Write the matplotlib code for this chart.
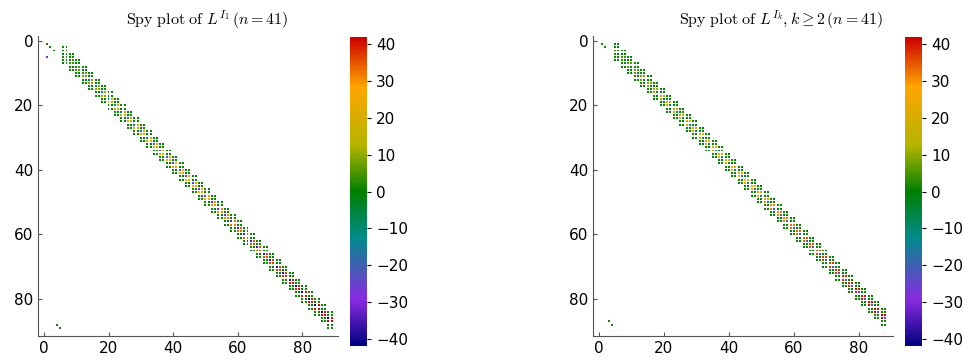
import numpy as np
import matplotlib
matplotlib.use("Agg")
import matplotlib.pyplot as plt
from matplotlib.colors import LinearSegmentedColormap

plt.rcParams["mathtext.fontset"] = "cm"

n = 41
size_left = 90
size_right = 89
clim = 42

# magnitude of the centre 2x2 block, one value per block row (read along the diagonal)
centre_left = [2, 4, 6, 7, 9, 10, 11, 13, 14, 15, 17, 18, 19, 20, 21, 22, 23, 24, 25, 26, 27,
               28, 29, 30, 31, 31, 32, 33, 34, 35, 35, 36, 37, 37, 38, 39, 39, 40, 40, 41, 41, 42]
centre_right = [2, 4, 6, 7, 9, 10, 11, 13, 14, 15, 17, 18, 19, 20, 21, 22, 23, 24, 25, 26, 27,
                28, 29, 30, 31, 31, 32, 33, 34, 35, 35, 36, 37, 37, 38, 39, 39, 40, 40, 41, 41, 42]
# sign pattern of the centre block (upper row, lower row)
sign_left = [[-1, 1], [1, 1]]
sign_right = [[1, 1], [1, -0.6]]
# small couplings in the neighbouring blocks
offdiag_vals = [1, -1, -1, 1]

# isolated entries outside the band: (row, col, value)
extra_left = [(1, 1, 1), (2, 2, 1), (3, 3, 1), (5, 1, -30), (88, 4, 1), (89, 5, 1)]
extra_right = [(1, 1, 1), (2, 2, 1), (87, 3, 1), (88, 4, 1)]

colors = ["#00007f", "#8a2be2", "#008b8b", "#008000", "#b4b400", "#ffa500", "#cc0000"]
nodes = [0.0, 0.15, 0.35, 0.5, 0.65, 0.84, 1.0]
cmap = LinearSegmentedColormap.from_list("rainbow_jl", list(zip(nodes, colors)))


def build(size, row0, col_min, centre, sign, extra):
    rows, cols, vals = [], [], []
    nblocks = len(centre) + 2
    for b in range(nblocks):
        for dr in range(2):
            r = row0 + 2 * b + dr
            if r >= size:
                continue
            for k in range(6):
                c = row0 + 2 * b + k
                if c < col_min or c >= size:
                    continue
                if k in (2, 3) and 1 <= b <= len(centre):
                    v = sign[dr][k - 2] * centre[b - 1]
                else:
                    v = offdiag_vals[(dr * 2 + k) % 4]
                rows.append(r)
                cols.append(c)
                vals.append(v)
    for r, c, v in extra:
        rows.append(r)
        cols.append(c)
        vals.append(v)
    return np.array(rows), np.array(cols), np.array(vals, dtype=float)


fig = plt.figure(figsize=(9.63, 3.6), dpi=100)

panels = [
    (0.0395, 0.3634, build(size_left, 2, 6, centre_left, sign_left, extra_left),
     r"$\mathrm{Spy\ plot\ of\ }L^{I_1}\,(n=41)$", 91.0, 207),
    (0.6158, 0.9398, build(size_right, 1, 5, centre_right, sign_right, extra_right),
     r"$\mathrm{Spy\ plot\ of\ }L^{I_k},k\geq 2\,(n=41)$", 90.5, 781),
]

for ax_x, cb_x, (rows, cols, vals), title, xmax, title_x in panels:
    ax = fig.add_axes([ax_x, 0.0667, 0.3115, 0.8333])
    sc = ax.scatter(cols, rows, c=vals, cmap=cmap, vmin=-clim, vmax=clim,
                    marker="s", s=2.0, linewidths=0)
    ax.set_xlim(-1.8, xmax)
    ax.set_ylim(91.5, -1.5)
    ax.set_xticks([0, 20, 40, 60, 80])
    ax.set_yticks([0, 20, 40, 60, 80])
    ax.spines["top"].set_visible(False)
    ax.spines["right"].set_visible(False)
    for s in ("left", "bottom"):
        ax.spines[s].set_color("#555555")
    ax.tick_params(direction="in", length=3, labelsize=11, color="#555555")
    fig.text(title_x / 963, 1 - 20 / 360, title, fontsize=11.5, ha="center", va="center")

    cax = fig.add_axes([cb_x, 0.0389, 0.0177, 0.858])
    cb = fig.colorbar(sc, cax=cax)
    cb.set_ticks([-40, -30, -20, -10, 0, 10, 20, 30, 40])
    cb.outline.set_visible(False)
    cax.tick_params(labelsize=11, length=3, direction="out")

fig.savefig("out.png", dpi=100)
